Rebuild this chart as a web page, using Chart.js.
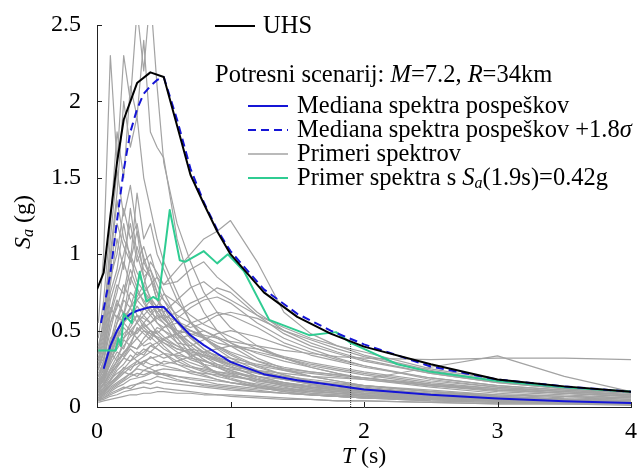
<!DOCTYPE html>
<html>
<head>
<meta charset="utf-8">
<script src="https://cdn.jsdelivr.net/npm/chart.js@4.4.0/dist/chart.umd.min.js"></script>
<style>
html, body { margin: 0; padding: 0; background: #fff; }
</style>
</head>
<body>
<canvas id="myChart" width="639" height="468"></canvas>
<script>
// podatki (odčitani s slike)
const uhsPeriods = [0, 0.05, 0.1, 0.15, 0.2, 0.3, 0.4, 0.5, 0.6, 0.7, 0.8, 0.9, 1.0, 1.25, 1.5, 1.75, 2.0, 2.5, 3.0, 3.5, 4.0];
const uhsValues  = [0.77, 0.88, 1.25, 1.6, 1.88, 2.12, 2.19, 2.16, 1.84, 1.52, 1.33, 1.15, 1.0, 0.75, 0.59, 0.48, 0.395, 0.28, 0.18, 0.135, 0.10];

const medianPeriods = [0.05, 0.1, 0.15, 0.2, 0.25, 0.3, 0.4, 0.5, 0.6, 0.7, 0.8, 0.9, 1.0, 1.25, 1.5, 1.75, 2.0, 2.5, 3.0, 3.5, 4.0];
const medianValues  = [0.25, 0.40, 0.50, 0.57, 0.61, 0.63, 0.655, 0.655, 0.56, 0.47, 0.405, 0.35, 0.295, 0.215, 0.175, 0.145, 0.115, 0.08, 0.055, 0.038, 0.026];

const medianPlusPeriods = [0.03, 0.1, 0.15, 0.2, 0.25, 0.3, 0.35, 0.4, 0.45, 0.5, 0.6, 0.7, 0.8, 0.9, 1.0, 1.25, 1.5, 1.75, 2.0, 2.5, 3.0, 3.5, 4.0];
const medianPlusValues  = [0.55, 0.87, 1.22, 1.55, 1.80, 1.95, 2.05, 2.10, 2.14, 2.16, 1.88, 1.56, 1.34, 1.16, 1.02, 0.77, 0.61, 0.50, 0.41, 0.265, 0.18, 0.135, 0.10];

const examplePeriods = [0.01, 0.05, 0.1, 0.14, 0.16, 0.18, 0.2, 0.26, 0.32, 0.37, 0.42, 0.46, 0.545, 0.62, 0.66, 0.8, 0.9, 0.98, 1.1, 1.29, 1.59, 1.79, 1.9, 2.0, 2.25, 2.5, 3.0, 3.5, 4.0];
const exampleValues  = [0.37, 0.37, 0.37, 0.37, 0.45, 0.40, 0.61, 0.55, 0.885, 0.69, 0.72, 0.70, 1.29, 0.96, 0.95, 1.02, 0.94, 1.0, 0.89, 0.57, 0.47, 0.49, 0.42, 0.38, 0.28, 0.23, 0.17, 0.13, 0.10];

const targetPeriod = 1.9;
const targetValue = 0.42;

const grayPeriods = [0.01, 0.05, 0.1, 0.15, 0.2, 0.25, 0.3, 0.35, 0.4, 0.45, 0.5, 0.6, 0.7, 0.8, 0.9, 1.0, 1.2, 1.4, 1.6, 1.8, 2.0, 2.5, 3.0, 3.5, 4.0];
const graySpectra = [
    [.55, 1.00, 2.30, 1.60, 2.30, 2.00, 2.60, 2.20, 2.70, 2.10, 1.60, 1.20, .95, .75, .62, .52, .40, .32, .26, .22, .18, .13, .09, .07, .06],
    [.45, .70, 1.20, 1.80, 1.50, 2.10, 1.90, 2.40, 1.80, 1.70, 1.63, 1.10, .80, .62, .50, .42, .32, .25, .20, .17, .14, .10, .07, .05, .04],
    [.35, .60, 1.00, 1.40, 2.00, 1.70, 1.90, 1.50, 1.30, 1.10, .95, .75, .55, .45, .38, .32, .24, .19, .15, .12, .10, .07, .05, .04, .03],
    [.15, .20, .35, .45, .55, .60, .70, .75, .80, .85, .80, .90, 1.00, 1.10, 1.15, 1.22, .95, .62, .48, .40, .34, .24, .17, .12, .10],
    [.10, .12, .18, .22, .25, .30, .33, .36, .40, .42, .45, .48, .50, .47, .45, .43, .40, .37, .35, .33, .32, .31, .32, .32, .31],
    [.08, .10, .14, .18, .22, .26, .28, .30, .32, .33, .35, .34, .32, .30, .28, .26, .24, .22, .20, .19, .18, .26, .335, .20, .10],
    [.30, .45, .80, 1.10, .90, 1.30, 1.00, .85, .90, .75, .60, .45, .35, .28, .22, .18, .13, .10, .08, .07, .06, .04, .03, .02, .02],
    [.25, .35, .60, .75, .95, .80, 1.05, .90, .85, .70, .65, .50, .42, .35, .30, .26, .20, .16, .13, .11, .09, .06, .05, .04, .03],
    [.20, .28, .40, .55, .70, .65, .80, .95, .85, .75, .70, .60, .55, .50, .45, .40, .30, .24, .20, .17, .14, .10, .07, .05, .04],
    [.18, .25, .45, .50, .60, .75, .70, .65, .60, .55, .52, .58, .65, .70, .72, .68, .55, .45, .38, .32, .27, .18, .13, .10, .08],
    [.12, .15, .22, .30, .35, .42, .50, .55, .60, .65, .62, .70, .78, .82, .75, .70, .60, .48, .40, .35, .30, .22, .16, .12, .09],
    [.40, .55, .90, 1.20, 1.05, .95, 1.15, .85, .70, .60, .55, .42, .33, .27, .22, .19, .14, .11, .09, .08, .07, .05, .04, .03, .02],
    [.05, .06, .08, .10, .12, .14, .15, .17, .18, .20, .19, .17, .16, .15, .14, .13, .11, .09, .08, .07, .06, .05, .04, .03, .03],
    [.07, .09, .13, .16, .19, .22, .25, .24, .26, .28, .27, .25, .22, .20, .18, .16, .13, .11, .09, .08, .07, .05, .04, .03, .02],
    [.15, .22, .35, .50, .45, .55, .60, .52, .48, .45, .42, .38, .36, .34, .32, .30, .27, .24, .22, .20, .18, .14, .11, .09, .07],
    [.22, .30, .55, .65, .80, .70, .60, .55, .50, .45, .40, .32, .27, .24, .22, .20, .17, .15, .13, .12, .11, .08, .06, .05, .04],
    [.10, .13, .20, .28, .35, .40, .38, .45, .50, .48, .52, .55, .50, .45, .40, .36, .30, .26, .23, .21, .19, .15, .12, .10, .08],
    [.06, .08, .11, .14, .17, .20, .22, .21, .23, .22, .21, .20, .19, .18, .17, .16, .14, .12, .11, .10, .09, .07, .05, .04, .03],
    [.28, .40, .70, .85, 1.00, 1.20, .95, 1.05, .90, .80, .70, .55, .45, .38, .33, .29, .22, .18, .15, .13, .11, .08, .06, .05, .04],
    [.12, .18, .30, .40, .48, .52, .60, .58, .55, .60, .58, .62, .68, .72, .78, .75, .60, .52, .45, .40, .36, .25, .18, .13, .10],
    [.04, .05, .07, .08, .10, .11, .12, .13, .12, .13, .12, .11, .10, .09, .08, .08, .07, .06, .05, .04, .04, .03, .02, .02, .02],
    [.09, .12, .18, .26, .32, .30, .36, .34, .40, .38, .35, .30, .26, .23, .20, .18, .15, .12, .10, .09, .08, .06, .05, .04, .03],
    [.18, .24, .40, .55, .62, .58, .70, .75, .68, .62, .65, .55, .50, .46, .42, .40, .36, .32, .28, .25, .22, .16, .12, .09, .07],
    [.35, .50, .85, 1.00, 1.30, 1.10, 1.20, .95, 1.00, .85, .75, .58, .46, .38, .32, .28, .22, .18, .15, .12, .10, .07, .05, .04, .03],
    [.14, .20, .32, .38, .45, .50, .55, .60, .65, .55, .50, .42, .40, .44, .48, .50, .46, .40, .34, .30, .26, .19, .14, .11, .09],
    [.08, .11, .16, .20, .24, .27, .30, .33, .36, .34, .32, .35, .38, .36, .34, .32, .28, .25, .23, .21, .19, .14, .11, .09, .07],
    [.25, .32, .55, .70, .60, .85, .75, .70, .62, .58, .55, .48, .42, .36, .31, .27, .20, .16, .13, .11, .09, .07, .05, .04, .03],
    [.05, .07, .10, .13, .15, .18, .19, .20, .22, .24, .25, .24, .23, .22, .21, .20, .18, .16, .14, .12, .11, .08, .06, .05, .04],
    [.16, .22, .38, .48, .58, .65, .72, .80, .95, .88, .80, .82, .90, .95, .85, .78, .62, .50, .42, .36, .31, .22, .16, .12, .09],
    [.11, .15, .24, .30, .36, .40, .45, .50, .48, .46, .44, .40, .37, .34, .31, .28, .23, .19, .16, .14, .12, .09, .07, .05, .04],
    [.20, .26, .42, .60, .55, .65, .55, .50, .46, .42, .38, .33, .29, .26, .23, .21, .17, .14, .12, .10, .09, .06, .05, .04, .03],
    [.03, .04, .05, .06, .07, .08, .08, .09, .09, .10, .10, .09, .09, .08, .08, .07, .06, .05, .05, .04, .04, .03, .02, .02, .01],
    [.30, .42, .75, .90, 1.20, .95, 1.40, 1.10, 1.20, 1.00, .90, .70, .56, .46, .39, .34, .26, .21, .17, .14, .12, .09, .06, .05, .04],
    [.13, .17, .25, .33, .40, .46, .50, .52, .55, .58, .60, .56, .52, .55, .60, .62, .58, .50, .44, .38, .33, .23, .17, .13, .10],
    [.10, .16, .30, .42, .38, .50, .45, .40, .42, .38, .35, .28, .24, .21, .18, .16, .13, .10, .08, .07, .06, .04, .03, .03, .02],
    [.17, .22, .36, .30, .44, .40, .52, .48, .44, .50, .46, .40, .34, .30, .27, .24, .19, .15, .13, .11, .10, .07, .05, .04, .03],
    [.06, .09, .15, .20, .26, .24, .30, .28, .33, .30, .28, .30, .33, .36, .38, .40, .38, .33, .29, .26, .23, .17, .13, .10, .08],
    [.24, .38, .65, .58, .72, .90, .78, .68, .62, .66, .58, .47, .38, .31, .26, .23, .18, .14, .12, .10, .08, .06, .04, .03, .03],
    [.09, .11, .14, .19, .23, .21, .26, .30, .28, .27, .30, .28, .26, .25, .23, .22, .20, .18, .16, .15, .14, .11, .08, .07, .05],
    [.32, .48, .95, 1.35, 1.10, 1.00, .88, .80, .72, .65, .58, .48, .40, .33, .28, .24, .18, .14, .11, .09, .08, .05, .04, .03, .02],
    [.14, .18, .28, .36, .33, .40, .38, .42, .46, .52, .50, .45, .47, .50, .46, .42, .35, .30, .26, .22, .19, .14, .10, .08, .06],
    [.04, .06, .09, .11, .13, .12, .15, .16, .15, .17, .16, .15, .14, .13, .12, .11, .10, .09, .08, .07, .06, .05, .04, .03, .02],
    [.20, .30, .50, .68, .62, .58, .66, .60, .55, .48, .44, .38, .35, .33, .30, .28, .24, .20, .18, .16, .14, .10, .08, .06, .05],
    [.11, .14, .22, .27, .32, .38, .34, .38, .36, .40, .44, .48, .55, .58, .62, .60, .52, .42, .36, .31, .27, .19, .14, .11, .08],
    [.07, .10, .17, .24, .28, .34, .30, .27, .25, .23, .21, .18, .16, .14, .13, .12, .10, .09, .08, .07, .06, .05, .04, .03, .02],
    [.38, .52, 1.10, 1.55, 1.25, 1.45, 1.15, .98, .85, .70, .62, .48, .38, .31, .26, .22, .16, .13, .10, .09, .07, .05, .04, .03, .02],
    [.16, .20, .33, .44, .52, .47, .56, .64, .70, .66, .74, .68, .60, .54, .50, .46, .38, .32, .27, .24, .21, .15, .11, .09, .07],
    [.05, .08, .12, .15, .18, .22, .20, .24, .23, .21, .22, .20, .18, .17, .15, .14, .12, .11, .10, .09, .08, .06, .05, .04, .03],
    [.13, .19, .34, .46, .55, .50, .48, .54, .50, .45, .42, .36, .31, .28, .26, .25, .22, .19, .17, .15, .13, .09, .07, .05, .04],
    [.27, .36, .62, .80, .74, .98, .82, .76, .70, .62, .57, .50, .48, .45, .40, .35, .27, .21, .17, .14, .12, .08, .06, .05, .04]
];

const xTicks = [0, 1, 2, 3, 4];
const yTicks = [0, 0.5, 1, 1.5, 2, 2.5];

// barve
const cBlack = '#000000';
const cBlue = '#1515d6';
const cGreen = '#2fcc92';
const cGray = '#a3a3a3';
const FONT = '"Liberation Serif", "Times New Roman", serif';
const LEG = 24.5;

/**
 * pari (T, Sa) za Chart.js
 */
function toXY(xs, ys) {
    return xs.map((x, i) => ({ x: x, y: ys[i] }));
}

/**
 * izpis besedila z ležečimi deli in indeksi
 */
function drawRich(ctx, parts, x, y, measureOnly) {
    let w = 0;
    parts.forEach(p => {
        ctx.font = (p.it ? 'italic ' : '') + (p.size || LEG) + 'px ' + FONT;
        if (!measureOnly) ctx.fillText(p.t, x + w, y + (p.dy || 0));
        w += ctx.measureText(p.t).width;
    });
    return w;
}

// kratke oznake na oseh (navznoter)
const inwardTicks = {
    id: 'inwardTicks',
    afterDatasetsDraw(chart) {
        const ctx = chart.ctx, a = chart.chartArea;
        const xs = chart.scales.x, ys = chart.scales.y;
        ctx.save();
        ctx.strokeStyle = '#222';
        ctx.lineWidth = 1;
        xs.ticks.forEach(t => {
            const px = Math.round(xs.getPixelForValue(t.value)) + 0.5;
            ctx.beginPath(); ctx.moveTo(px, a.bottom); ctx.lineTo(px, a.bottom - 5); ctx.stroke();
        });
        ys.ticks.forEach(t => {
            const py = Math.round(ys.getPixelForValue(t.value)) + 0.5;
            ctx.beginPath(); ctx.moveTo(a.left, py); ctx.lineTo(a.left + 5, py); ctx.stroke();
        });
        ctx.restore();
    }
};

// legenda in naslovi osi
const customText = {
    id: 'customText',
    afterDraw(chart) {
        const ctx = chart.ctx;
        ctx.save();
        ctx.fillStyle = '#000';
        ctx.textBaseline = 'middle';
        ctx.textAlign = 'left';

        const sample = (x1, x2, y, color, width, dash) => {
            ctx.save();
            ctx.strokeStyle = color; ctx.lineWidth = width; ctx.setLineDash(dash || []);
            ctx.beginPath(); ctx.moveTo(x1, y); ctx.lineTo(x2, y); ctx.stroke();
            ctx.restore();
        };

        // UHS
        sample(215, 255, 26, cBlack, 2);
        drawRich(ctx, [{ t: 'UHS' }], 263, 27);
        // scenarij
        drawRich(ctx, [{ t: 'Potresni scenarij: ' }, { t: 'M', it: true }, { t: '=7.2, ' }, { t: 'R', it: true }, { t: '=34km' }], 215, 76);
        // vrstice
        sample(248, 288, 106, cBlue, 2);
        drawRich(ctx, [{ t: 'Mediana spektra pospeškov' }], 297, 107);
        sample(248, 288, 130, cBlue, 2, [8, 5]);
        drawRich(ctx, [{ t: 'Mediana spektra pospeškov +1.8' }, { t: 'σ', it: true }], 297, 131);
        sample(248, 288, 154, cGray, 1.3);
        drawRich(ctx, [{ t: 'Primeri spektrov' }], 297, 155);
        sample(248, 288, 178, cGreen, 2);
        drawRich(ctx, [{ t: 'Primer spektra s ' }, { t: 'S', it: true }, { t: 'a', it: true, size: 16, dy: 5 }, { t: '(1.9s)=0.42g' }], 297, 179);

        // naslov osi x
        const xParts = [{ t: 'T', it: true, size: 24 }, { t: ' (s)', size: 24 }];
        const xw = drawRich(ctx, xParts, 0, 0, true);
        drawRich(ctx, xParts, 364 - xw / 2, 457);

        // naslov osi y
        const yParts = [{ t: 'S', it: true, size: 24 }, { t: 'a', it: true, size: 16, dy: 5 }, { t: ' (g)', size: 24 }];
        const yw = drawRich(ctx, yParts, 0, 0, true);
        ctx.translate(24, 222);
        ctx.rotate(-Math.PI / 2);
        drawRich(ctx, yParts, -yw / 2, 0);
        ctx.restore();
    }
};

// zbirke podatkov: prve so narisane na vrhu
const datasets = [];
datasets.push({ data: toXY(uhsPeriods, uhsValues), borderColor: cBlack, borderWidth: 2 });
datasets.push({ data: toXY(medianPlusPeriods, medianPlusValues), borderColor: cBlue, borderWidth: 2, borderDash: [8, 5] });
datasets.push({ data: toXY(examplePeriods, exampleValues), borderColor: cGreen, borderWidth: 2 });
datasets.push({ data: toXY(medianPeriods, medianValues), borderColor: cBlue, borderWidth: 2 });
datasets.push({ data: [{ x: targetPeriod, y: 0 }, { x: targetPeriod, y: targetValue }], borderColor: '#333', borderWidth: 1, borderDash: [1, 1] });
graySpectra.forEach(vals => {
    datasets.push({ data: toXY(grayPeriods, vals), borderColor: cGray, borderWidth: 1.2 });
});

const ctx = document.getElementById('myChart').getContext('2d');
const myChart = new Chart(ctx, {
    type: 'line',
    data: { datasets: datasets },
    options: {
        responsive: false,
        animation: false,
        elements: { point: { radius: 0 }, line: { tension: 0, fill: false, borderJoinStyle: 'round' } },
        layout: { padding: { top: 25, right: 7, left: 0, bottom: 0 } },
        plugins: { legend: { display: false }, tooltip: { enabled: false } },
        scales: {
            x: {
                type: 'linear', min: 0, max: 4,
                afterBuildTicks: s => { s.ticks = xTicks.map(v => ({ value: v })); },
                afterFit: s => { s.height = 61; },
                grid: { display: false },
                border: { display: true, color: '#222', width: 1 },
                ticks: { color: '#000', padding: 2, font: { family: FONT, size: 24 }, callback: v => String(v) }
            },
            y: {
                type: 'linear', min: 0, max: 2.5,
                afterBuildTicks: s => { s.ticks = yTicks.map(v => ({ value: v })); },
                afterFit: s => { s.width = 97; },
                grid: { display: false },
                border: { display: true, color: '#222', width: 1 },
                ticks: { color: '#000', padding: 8, font: { family: FONT, size: 24 }, callback: v => String(v) }
            }
        }
    },
    plugins: [inwardTicks, customText]
});
</script>
</body>
</html>
